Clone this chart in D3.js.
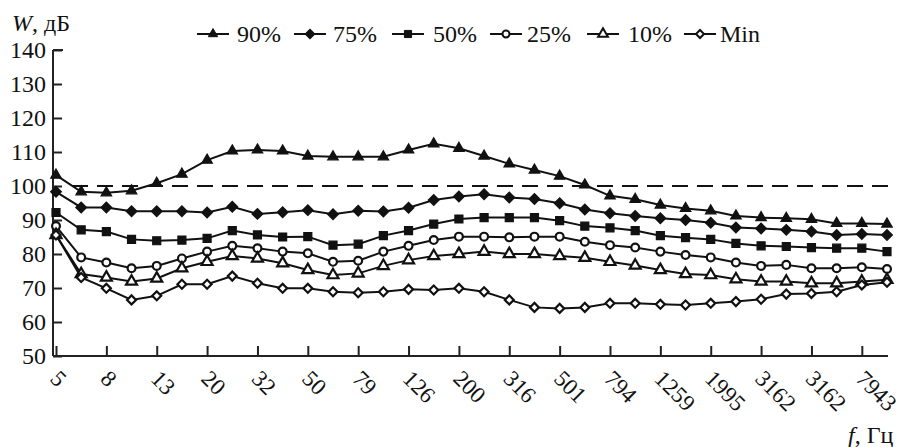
<!DOCTYPE html>
<html>
<head>
<meta charset="utf-8">
<script src="https://cdn.jsdelivr.net/npm/d3@7"></script>
<style>
  body { margin: 0; background: #fff; }
  svg text { font-family: "Liberation Serif", "DejaVu Serif", serif; fill: #111; }
</style>
</head>
<body>
<svg id="chart" width="905" height="447"></svg>
<script>
// 1/10-decade band centres, Hz
const freqs = [5, 6.3, 8, 10, 12.6, 16, 20, 25, 32, 40, 50, 63, 79, 100, 126, 158, 200, 251,
  316, 398, 501, 631, 794, 1000, 1259, 1585, 1995, 2512, 3162, 3981, 5012, 6310, 7943, 10000]

// labels as printed under every second band (the figure repeats 3162)
const tickLabels = ['5', '8', '13', '20', '32', '50', '79', '126', '200', '316', '501', '794',
  '1259', '1995', '3162', '3162', '7943']

const yTicks = [50, 60, 70, 80, 90, 100, 110, 120, 130, 140]

const p90 = [103.2, 98.3, 98.0, 98.6, 100.8, 103.5, 107.6, 110.3, 110.6, 110.3, 108.8, 108.6,
  108.6, 108.6, 110.6, 112.4, 111.1, 108.8, 106.5, 104.7, 102.9, 100.3, 97.1, 96.1, 94.4, 93.4,
  92.7, 91.2, 90.7, 90.5, 90.2, 89.0, 89.0, 88.8]
const p75 = [98.3, 93.7, 93.7, 92.6, 92.6, 92.6, 92.2, 93.9, 91.8, 92.3, 92.9, 91.7, 92.7, 92.5,
  93.6, 95.9, 96.9, 97.6, 96.6, 96.2, 94.9, 93.1, 92.0, 91.2, 90.5, 90.0, 89.2, 87.8, 87.5,
  87.1, 86.6, 85.6, 85.9, 85.6]
const p50 = [92.2, 87.1, 86.6, 84.3, 83.9, 84.1, 84.6, 86.9, 85.6, 85.0, 85.1, 82.6, 82.9, 85.4,
  86.9, 88.8, 90.3, 90.7, 90.7, 90.7, 89.8, 88.2, 87.7, 86.9, 85.4, 84.8, 84.3, 83.1, 82.4,
  82.2, 81.9, 81.7, 81.7, 80.7]
const p25 = [88.2, 79.0, 77.5, 75.8, 76.5, 78.7, 80.7, 82.4, 81.7, 80.7, 80.2, 77.7, 78.0, 80.7,
  82.4, 84.1, 85.1, 85.1, 84.9, 85.1, 85.1, 83.6, 82.6, 81.9, 80.7, 79.7, 79.0, 77.5, 76.5,
  76.8, 75.8, 75.8, 76.1, 75.6]
const p10 = [85.6, 74.1, 73.1, 71.9, 72.8, 75.8, 77.7, 79.4, 78.7, 77.3, 75.3, 73.8, 74.3, 76.5,
  78.2, 79.4, 80.0, 80.7, 80.0, 80.0, 79.4, 78.9, 77.7, 76.6, 75.3, 74.1, 73.8, 72.6, 71.9,
  71.9, 71.4, 71.4, 71.9, 72.4]
const pMin = [85.6, 73.1, 69.9, 66.5, 67.7, 71.1, 71.1, 73.5, 71.4, 69.9, 69.9, 68.9, 68.6, 68.9,
  69.6, 69.4, 69.9, 68.9, 66.5, 64.3, 64.0, 64.3, 65.5, 65.5, 65.2, 65.0, 65.5, 66.0, 66.7,
  68.2, 68.4, 68.9, 70.9, 71.7]

const seriesNames = ['90%', '75%', '50%', '25%', '10%', 'Min']
const seriesValues = [p90, p75, p50, p25, p10, pMin]
const threshold = 100

// marker look per series
const markers = [
  { type: d3.symbolTriangle, size: 48, fill: '#111', rot: 0 },
  { type: d3.symbolSquare, size: 58, fill: '#111', rot: 45 },
  { type: d3.symbolSquare, size: 64, fill: '#111', rot: 0 },
  { type: d3.symbolCircle, size: 48, fill: '#fff', rot: 0 },
  { type: d3.symbolTriangle, size: 52, fill: '#fff', rot: 0 },
  { type: d3.symbolSquare, size: 40, fill: '#fff', rot: 45 }
]

const svg = d3.select('#chart')

const x0 = 53, x1 = 888, yTop = 50, yBot = 356

const x = d3.scaleLinear().domain([0, freqs.length - 1]).range([56, 887])
const y = d3.scaleLinear().domain([50, 140]).range([yBot, yTop])

// axes
const yAxis = d3.axisRight(y).tickValues(yTicks).tickSize(9).tickFormat('')
svg.append('g')
  .attr('transform', `translate(${x0},0)`)
  .call(yAxis)
  .call(g => g.select('.domain').remove())
  .call(g => g.selectAll('line').attr('stroke', '#222').attr('stroke-width', 2))

svg.append('g').selectAll('text')
  .data(yTicks)
  .enter()
  .append('text')
  .attr('x', 46)
  .attr('y', d => y(d) + 8)
  .attr('text-anchor', 'end')
  .style('font-size', '24px')
  .text(d => d)

const tickIdx = tickLabels.map((l, i) => i * 2)
const xAxis = d3.axisTop(x).tickValues(tickIdx).tickSize(10).tickFormat('')
svg.append('g')
  .attr('transform', `translate(0,${yBot})`)
  .call(xAxis)
  .call(g => g.select('.domain').remove())
  .call(g => g.selectAll('line').attr('stroke', '#222').attr('stroke-width', 2))

svg.append('line')
  .attr('x1', x0).attr('x2', x0).attr('y1', yTop).attr('y2', yBot)
  .attr('stroke', '#222').attr('stroke-width', 2)
svg.append('line')
  .attr('x1', x0).attr('x2', x1).attr('y1', yBot).attr('y2', yBot)
  .attr('stroke', '#222').attr('stroke-width', 2)
svg.append('line')
  .attr('x1', x0).attr('x2', x0 + 10).attr('y1', yTop).attr('y2', yTop)
  .attr('stroke', '#222').attr('stroke-width', 2)

svg.append('g').selectAll('text')
  .data(tickLabels)
  .enter()
  .append('text')
  .attr('transform', (d, i) => `translate(${x(tickIdx[i]) - 7},${yBot + 24}) rotate(45)`)
  .style('font-size', '23px')
  .text(d => d)

// axis titles
svg.append('text')
  .attr('x', 12).attr('y', 31)
  .style('font-size', '24px')
  .html('<tspan font-style="italic">W</tspan>, дБ')

svg.append('text')
  .attr('x', 848).attr('y', 443)
  .style('font-size', '24px')
  .html('<tspan font-style="italic">f</tspan>, Гц')

// 100 dB reference
svg.append('line')
  .attr('x1', 72).attr('x2', 890)
  .attr('y1', y(threshold)).attr('y2', y(threshold))
  .attr('stroke', '#111').attr('stroke-width', 2)
  .attr('stroke-dasharray', '16 9')

// series
const line = d3.line().x((d, i) => x(i)).y(d => y(d))

const groups = svg.append('g').selectAll('g.series')
  .data(seriesValues)
  .enter()
  .append('g')
  .attr('class', 'series')

groups.append('path')
  .attr('d', d => line(d))
  .attr('fill', 'none')
  .attr('stroke', '#111')
  .attr('stroke-width', 2)

groups.each(function (vals, k) {
  const m = markers[k]
  d3.select(this).selectAll('path.mark')
    .data(vals)
    .enter()
    .append('path')
    .attr('class', 'mark')
    .attr('d', d3.symbol().type(m.type).size(m.size))
    .attr('transform', (d, i) => `translate(${x(i)},${y(d)}) rotate(${m.rot})`)
    .attr('fill', m.fill)
    .attr('stroke', '#111')
    .attr('stroke-width', m.fill === '#fff' ? 2.2 : 1.2)
})

// legend
const legendX = [213, 310, 408, 506, 603, 700]
const legendTextX = [237, 333, 433, 527, 628, 720]
const legendY = 34

const leg = svg.append('g').selectAll('g')
  .data(seriesNames)
  .enter()
  .append('g')

leg.append('line')
  .attr('x1', (d, i) => legendX[i] - 16)
  .attr('x2', (d, i) => legendX[i] + 16)
  .attr('y1', legendY).attr('y2', legendY)
  .attr('stroke', '#111').attr('stroke-width', 2)

leg.append('path')
  .attr('d', (d, i) => d3.symbol().type(markers[i].type).size(markers[i].size * 0.8)())
  .attr('transform', (d, i) => `translate(${legendX[i]},${legendY}) rotate(${markers[i].rot})`)
  .attr('fill', (d, i) => markers[i].fill)
  .attr('stroke', '#111')
  .attr('stroke-width', (d, i) => markers[i].fill === '#fff' ? 2 : 1)

leg.append('text')
  .attr('x', (d, i) => legendTextX[i])
  .attr('y', legendY + 8)
  .style('font-size', '24px')
  .text(d => d)
</script>
</body>
</html>
